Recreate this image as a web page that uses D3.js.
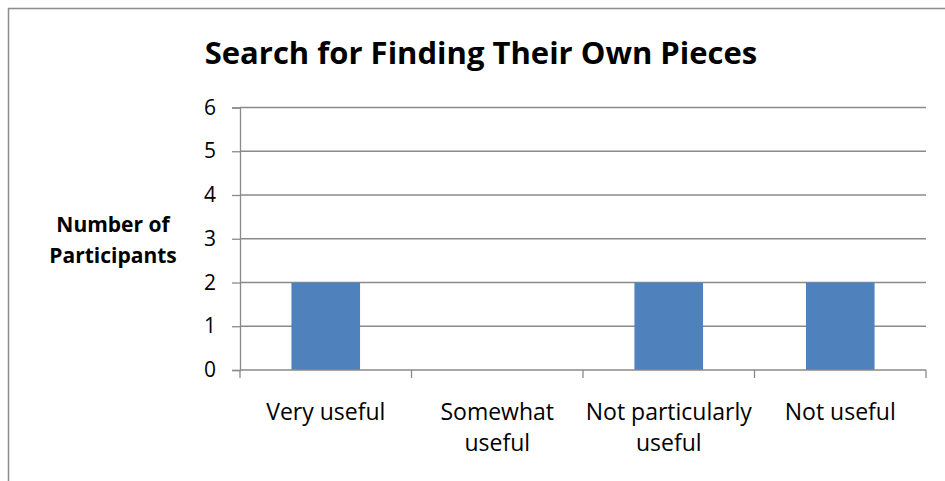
<!DOCTYPE html>
<html>
<head>
<meta charset="utf-8">
<script src="https://cdn.jsdelivr.net/npm/d3@7"></script>
<style>
  html, body { margin: 0; padding: 0; background: #fff; }
  svg { display: block; font-family: "Open Sans", Lato, sans-serif; }
</style>
</head>
<body>
<svg id="chart" width="945" height="481"></svg>
<script>
// Survey responses: how useful search was for finding their own pieces
const categories = [["Very useful"], ["Somewhat", "useful"], ["Not particularly", "useful"], ["Not useful"]];
const categoryKeys = ["Very useful", "Somewhat useful", "Not particularly useful", "Not useful"];
const participants = [2, 0, 2, 2];
const yTicks = [0, 1, 2, 3, 4, 5, 6];
const chartTitle = "Search for Finding Their Own Pieces";
const yTitle = ["Number of", "Participants"];

const svg = d3.select("#chart");
const W = 945, H = 481;
const plot = { left: 240, right: 926, top: 107.5, bottom: 370 };

// outer chart frame (top and left edges visible)
svg.append("path")
  .attr("d", `M8.5,${H} L8.5,8.5 L${W},8.5`)
  .attr("fill", "none")
  .attr("stroke", "#8c8c8c")
  .attr("stroke-width", 1.5);

const x = d3.scaleBand()
  .domain(categoryKeys)
  .range([plot.left, plot.right])
  .paddingInner(0.6)
  .paddingOuter(0.3);

const xCat = d3.scaleBand().domain(categoryKeys).range([plot.left, plot.right]);

const y = d3.scaleLinear().domain([0, 6]).range([plot.bottom, plot.top]);

// horizontal gridlines
svg.append("g").selectAll("line")
  .data(yTicks.filter(d => d > 0))
  .join("line")
  .attr("x1", plot.left).attr("x2", plot.right)
  .attr("y1", d => y(d)).attr("y2", d => y(d))
  .attr("stroke", "#8a8a8a").attr("stroke-width", 1.3);

// bars
svg.append("g").selectAll("rect")
  .data(participants)
  .join("rect")
  .attr("x", (d, i) => x(categoryKeys[i]))
  .attr("width", x.bandwidth())
  .attr("y", d => y(d))
  .attr("height", d => y(0) - y(d))
  .attr("fill", "#4f81bd");

// y axis
const yAxis = svg.append("g")
  .attr("transform", `translate(${plot.left},0)`)
  .call(d3.axisLeft(y).tickValues(yTicks).tickSize(8).tickPadding(16).tickFormat(d3.format("d")));
yAxis.selectAll("path, line").attr("stroke", "#8a8a8a").attr("stroke-width", 1.3);
yAxis.selectAll("text").attr("font-size", 21).attr("fill", "#000")
  .attr("font-family", "'Open Sans', sans-serif");

// x axis with ticks at category boundaries
const xAxisG = svg.append("g").attr("transform", `translate(0,${plot.bottom})`);
xAxisG.append("line")
  .attr("x1", plot.left).attr("x2", plot.right)
  .attr("stroke", "#8a8a8a").attr("stroke-width", 1.3);
const boundaries = categoryKeys.map(k => xCat(k)).concat([plot.right]);
xAxisG.selectAll("line.tick")
  .data(boundaries)
  .join("line")
  .attr("class", "tick")
  .attr("x1", d => d).attr("x2", d => d)
  .attr("y1", 0).attr("y2", 8)
  .attr("stroke", "#8a8a8a").attr("stroke-width", 1.3);

// category labels
const labels = svg.append("g").selectAll("text")
  .data(categories)
  .join("text")
  .attr("x", (d, i) => xCat(categoryKeys[i]) + xCat.bandwidth() / 2)
  .attr("y", 420)
  .attr("text-anchor", "middle")
  .attr("font-size", 23)
  .attr("fill", "#000");
labels.selectAll("tspan")
  .data(d => d)
  .join("tspan")
  .attr("x", function() { return d3.select(this.parentNode).attr("x"); })
  .attr("dy", (d, i) => i === 0 ? 0 : 31)
  .text(d => d);

// y-axis title
svg.append("text")
  .attr("x", 113).attr("y", 232)
  .attr("text-anchor", "middle")
  .attr("font-size", 21).attr("font-weight", "bold").attr("fill", "#000")
  .selectAll("tspan")
  .data(yTitle)
  .join("tspan")
  .attr("x", 113)
  .attr("dy", (d, i) => i === 0 ? 0 : 31)
  .text(d => d);

// chart title
svg.append("text")
  .attr("x", 481).attr("y", 64)
  .attr("text-anchor", "middle")
  .attr("font-size", 31).attr("font-weight", "bold").attr("fill", "#000")
  .text(chartTitle);
</script>
</body>
</html>
